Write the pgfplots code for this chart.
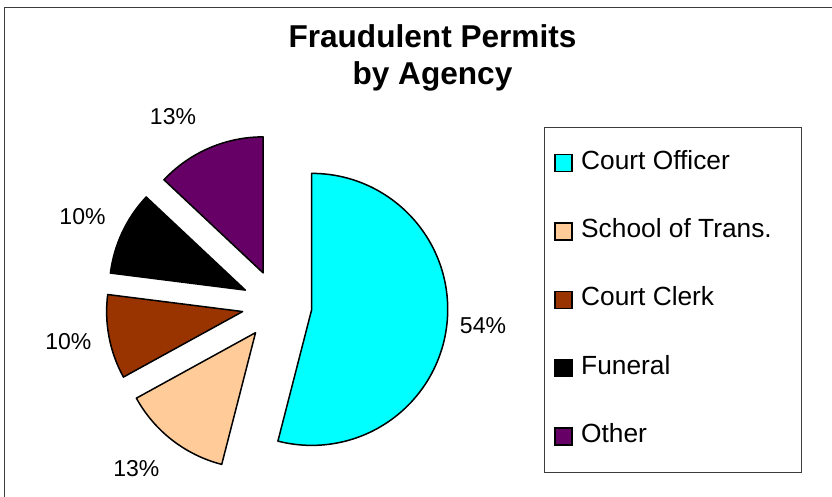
\documentclass[border=0pt]{standalone}
\usepackage{pgfplots}
\pgfplotsset{compat=1.18}
\usepackage{pgfplotstable}
\usepackage{fontspec}
\setmainfont{Liberation Sans}
\definecolor{cOfficer}{RGB}{0,255,255}
\definecolor{cSchool}{RGB}{255,204,153}
\definecolor{cClerk}{RGB}{153,51,0}
\definecolor{cFuneral}{RGB}{0,0,0}
\definecolor{cOther}{RGB}{102,0,102}
\definecolor{frameGray}{RGB}{60,60,60}

% share (%), colour, label centre x, label baseline y (pixels from top)
\pgfplotstableread[col sep=comma]{
name,share,col,lx,ly
Court Officer,54,cOfficer,483,333.3
School of Trans.,13,cSchool,136.3,476.7
Court Clerk,10,cClerk,68.3,349.3
Funeral,10,cFuneral,82.5,224.3
Other,13,cOther,173,124.3
}\piedata

\def\cx{277}\def\cy{192}\def\R{136}\def\dd{35}
\pgfmathsetmacro\cum{0}
\pgfplotsforeachungrouped \i in {0,...,4}{%
  \pgfplotstablegetelem{\i}{share}\of\piedata \let\sh=\pgfplotsretval
  \pgfmathsetmacro\aone{90-3.6*\cum}%
  \pgfmathsetmacro\cum{\cum+\sh}%
  \pgfmathsetmacro\atwo{90-3.6*\cum}%
  \pgfmathsetmacro\amid{(\aone+\atwo)/2}%
  \pgfmathsetmacro\px{\cx+\dd*cos(\amid)}%
  \pgfmathsetmacro\py{\cy+\dd*sin(\amid)}%
  \expandafter\xdef\csname sA\i\endcsname{\aone}%
  \expandafter\xdef\csname sB\i\endcsname{\atwo}%
  \expandafter\xdef\csname sPx\i\endcsname{\px}%
  \expandafter\xdef\csname sPy\i\endcsname{\py}%
  \expandafter\xdef\csname sV\i\endcsname{\sh}%
  \pgfplotstablegetelem{\i}{col}\of\piedata
  \expandafter\xdef\csname sC\i\endcsname{\pgfplotsretval}%
  \pgfplotstablegetelem{\i}{name}\of\piedata
  \expandafter\xdef\csname sN\i\endcsname{\pgfplotsretval}%
  \pgfplotstablegetelem{\i}{lx}\of\piedata
  \expandafter\xdef\csname sLx\i\endcsname{\pgfplotsretval}%
  \pgfplotstablegetelem{\i}{ly}\of\piedata
  \pgfmathsetmacro\tmpy{497-\pgfplotsretval}%
  \expandafter\xdef\csname sLy\i\endcsname{\tmpy}%
  \pgfmathsetmacro\tmpy{327.7-68.3*\i}%
  \expandafter\xdef\csname sGy\i\endcsname{\tmpy}%
  \pgfmathsetmacro\tmpy{327.7-68.3*\i-2.5}%
  \expandafter\xdef\csname sGa\i\endcsname{\tmpy}%
  \pgfmathsetmacro\tmpy{327.7-68.3*\i+14.5}%
  \expandafter\xdef\csname sGb\i\endcsname{\tmpy}%
}

\begin{document}
\begin{tikzpicture}
\useasboundingbox (0,0) rectangle (832bp,497bp);
\begin{axis}[
  at={(0,0)}, anchor=south west,
  scale only axis, x=1bp, y=1bp,
  xmin=0, xmax=832, ymin=0, ymax=497,
  hide axis, clip=false,
]
% outer border (top and left visible)
\draw[frameGray, line width=1.2bp] (axis cs:4.5,0) -- (axis cs:4.5,489.5) -- (axis cs:832,489.5);
% title
\node[anchor=base, inner sep=0, font=\fontsize{31.6bp}{36bp}\selectfont\bfseries] at (axis cs:432.5,449.3) {Fraudulent Permits};
\node[anchor=base, inner sep=0, font=\fontsize{31.6bp}{36bp}\selectfont\bfseries] at (axis cs:432.5,412) {by Agency};
% wedges
\pgfplotsinvokeforeach{0,...,4}{
  \filldraw[fill=\csname sC#1\endcsname, draw=black, line width=1.5bp, line join=round]
    (axis cs:\csname sPx#1\endcsname,\csname sPy#1\endcsname)
    -- ++(\csname sA#1\endcsname:\R bp)
    arc[start angle=\csname sA#1\endcsname, end angle=\csname sB#1\endcsname, radius=\R bp]
    -- cycle;
  \node[anchor=base, inner sep=0, font=\fontsize{23bp}{27bp}\selectfont]
    at (axis cs:\csname sLx#1\endcsname,\csname sLy#1\endcsname) {\csname sV#1\endcsname\%};
  \filldraw[fill=\csname sC#1\endcsname, draw=black, line width=1.2bp]
    (axis cs:555,\csname sGa#1\endcsname) rectangle (axis cs:572,\csname sGb#1\endcsname);
  \node[anchor=base west, inner sep=0, font=\fontsize{26.3bp}{30bp}\selectfont]
    at (axis cs:581,\csname sGy#1\endcsname) {\csname sN#1\endcsname};
}
% legend frame
\draw[frameGray, line width=1bp] (axis cs:544,369.7) rectangle (axis cs:801.7,24.3);
\end{axis}
\end{tikzpicture}
\end{document}
